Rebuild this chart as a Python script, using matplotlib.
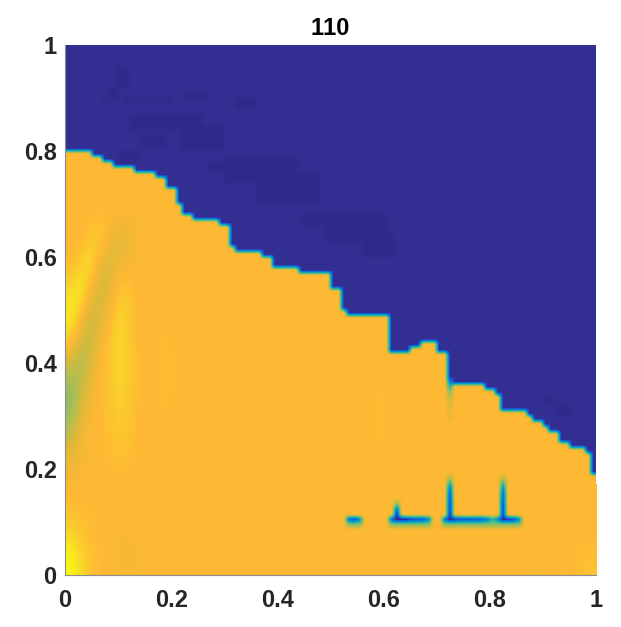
import numpy as np
import matplotlib

matplotlib.use("Agg")
import matplotlib.pyplot as plt
from matplotlib.colors import LinearSegmentedColormap

plt.rcParams["font.family"] = ["Liberation Sans", "DejaVu Sans"]
plt.rcParams["text.kerning_factor"] = 16

title = "110"
ticks = [0, 0.2, 0.4, 0.6, 0.8, 1]
tick_labels = ["0", "0.2", "0.4", "0.6", "0.8", "1"]

navy_level = 0.04
dark_navy_level = 0.015
orange_level = 0.855

# top of the orange region: last column of each step and its height in cells (grid is 100x100)
step_col_end = [5, 6, 7, 9, 13, 17, 19, 21, 22, 24, 29, 31, 32, 37, 39, 41, 44, 50, 52, 53,
                61, 65, 67, 70, 72, 79, 81, 82, 87, 88, 90, 91, 93, 95, 98, 99, 100]
step_height = [80, 79, 79, 78, 77, 76, 75, 73, 70, 68, 67, 66, 62, 61, 60, 58, 58, 57, 54, 50,
               49, 42, 43, 44, 42, 36, 35, 34, 31, 30, 29, 28, 27, 25, 24, 23, 19]

# thin blue features low in the orange region
ridge_row = 10
shoulder_row = 9
shoulder_level = 0.62
ridge_cols = [53, 54, 55, 61, 62, 63, 64, 65, 66, 67, 68, 71, 72, 73, 74, 75, 76, 77, 78, 79,
              80, 81, 82, 83, 84, 85]
ridge_vals = [0.18, 0.12, 0.3, 0.2, 0.0, 0.0, 0.05, 0.1, 0.12, 0.15, 0.3, 0.25, 0.02, 0.08,
              0.12, 0.14, 0.14, 0.14, 0.16, 0.25, 0.45, 0.3, 0.03, 0.06, 0.1, 0.3]
spike_cols = [72, 82, 62]
spike_first_row = 11
spike_vals = [[0.06, 0.08, 0.1, 0.12, 0.16, 0.26, 0.48, 0.72],
              [0.08, 0.1, 0.12, 0.16, 0.2, 0.32, 0.52, 0.75],
              [0.04, 0.25, 0.62]]
notch_col = 72
notch_first_row = 29
notch_vals = [0.82, 0.8, 0.78, 0.76, 0.72, 0.62, 0.45, 0.25]

# slightly darker areas inside the navy: col0, col1, row0, row1
dark_cols0 = [7, 8, 10, 22, 32, 11, 12, 22, 30, 36, 49, 56, 10, 14, 27, 44, 90, 93]
dark_cols1 = [8, 10, 12, 27, 36, 20, 26, 30, 44, 48, 61, 62, 14, 19, 34, 50, 92, 95]
dark_rows0 = [89, 90, 92, 90, 88, 89, 84, 80, 74, 70, 63, 60, 78, 81, 76, 66, 32, 30]
dark_rows1 = [90, 92, 96, 91, 90, 90, 87, 85, 79, 76, 68, 64, 80, 83, 78, 68, 34, 32]

# lower left streaks, rows go upwards
streak_field = [
    [1.00, 0.93, 0.88, 0.86, 0.85, 0.84, 0.84, 0.85, 0.855],
    [0.96, 0.90, 0.87, 0.86, 0.85, 0.84, 0.84, 0.85, 0.855],
    [0.90, 0.88, 0.865, 0.86, 0.85, 0.845, 0.845, 0.85, 0.855],
    [0.87, 0.865, 0.86, 0.855, 0.855, 0.85, 0.85, 0.855, 0.855],
    [0.84, 0.85, 0.855, 0.855, 0.855, 0.855, 0.855, 0.855, 0.855],
    [0.82, 0.84, 0.85, 0.855, 0.86, 0.865, 0.86, 0.855, 0.855],
    [0.78, 0.83, 0.85, 0.855, 0.87, 0.88, 0.87, 0.855, 0.855],
    [0.68, 0.80, 0.85, 0.86, 0.875, 0.895, 0.875, 0.855, 0.855],
    [0.62, 0.76, 0.84, 0.86, 0.88, 0.905, 0.88, 0.855, 0.855],
    [0.63, 0.72, 0.82, 0.86, 0.885, 0.915, 0.885, 0.855, 0.855],
    [0.72, 0.68, 0.78, 0.86, 0.89, 0.925, 0.89, 0.855, 0.855],
    [0.85, 0.72, 0.74, 0.84, 0.89, 0.93, 0.885, 0.85, 0.855],
    [0.95, 0.82, 0.72, 0.80, 0.875, 0.925, 0.88, 0.85, 0.855],
    [0.97, 0.92, 0.76, 0.76, 0.85, 0.92, 0.88, 0.85, 0.855],
    [0.92, 0.96, 0.85, 0.74, 0.80, 0.90, 0.87, 0.85, 0.855],
    [0.87, 0.92, 0.93, 0.78, 0.77, 0.85, 0.85, 0.85, 0.855],
    [0.85, 0.87, 0.92, 0.88, 0.78, 0.79, 0.83, 0.85, 0.855],
    [0.855, 0.85, 0.87, 0.89, 0.84, 0.80, 0.83, 0.85, 0.855],
    [0.855, 0.855, 0.85, 0.86, 0.86, 0.85, 0.85, 0.855, 0.855],
    [0.855, 0.855, 0.855, 0.855, 0.855, 0.855, 0.855, 0.855, 0.855],
]
streak_extent = (0, 0.17, 0, 0.74)

soft_blob = [
    [0.855, 0.855, 0.855],
    [0.855, 0.87, 0.855],
    [0.855, 0.87, 0.855],
    [0.855, 0.87, 0.855],
    [0.855, 0.855, 0.855],
]
soft_blob_extent = (0.16, 0.22, 0.26, 0.50)
mid_blob_extent = (0.575, 0.62, 0.20, 0.39)

corner_field = [
    [0.855, 0.845, 0.855, 0.865, 0.85, 0.875, 0.88],
    [0.855, 0.845, 0.86, 0.845, 0.87, 0.855, 0.87],
    [0.855, 0.85, 0.845, 0.86, 0.845, 0.865, 0.855],
    [0.855, 0.855, 0.85, 0.845, 0.855, 0.845, 0.86],
    [0.855, 0.855, 0.855, 0.85, 0.85, 0.855, 0.85],
    [0.855, 0.855, 0.855, 0.855, 0.855, 0.855, 0.855],
]
corner_extent = (0.87, 1, 0, 0.17)

parula_pos = [0, 0.05, 0.10, 0.16, 0.25, 0.33, 0.42, 0.55, 0.68, 0.78, 0.86, 0.93, 1]
parula_rgb = [
    (0.180, 0.160, 0.530), (0.208, 0.186, 0.585), (0.170, 0.290, 0.780), (0.012, 0.390, 0.880),
    (0.020, 0.510, 0.840), (0.030, 0.610, 0.780), (0.110, 0.680, 0.680), (0.400, 0.745, 0.490),
    (0.680, 0.745, 0.330), (0.880, 0.725, 0.220), (1.000, 0.725, 0.205), (0.975, 0.860, 0.150),
    (0.976, 0.983, 0.054),
]
parula = LinearSegmentedColormap.from_list("parula", list(zip(parula_pos, parula_rgb)))

Z = np.full((100, 100), navy_level)
col0 = 0
for col1, h in zip(step_col_end, step_height):
    Z[:h, col0:col1] = orange_level
    col0 = col1
for c0, c1, r0, r1 in zip(dark_cols0, dark_cols1, dark_rows0, dark_rows1):
    Z[r0:r1, c0:c1] = np.minimum(Z[r0:r1, c0:c1], dark_navy_level)
Z[shoulder_row, ridge_cols] = shoulder_level
Z[ridge_row, ridge_cols] = ridge_vals
for col, vals in zip(spike_cols, spike_vals):
    Z[spike_first_row : spike_first_row + len(vals), col] = vals
Z[notch_first_row : notch_first_row + len(notch_vals), notch_col] = notch_vals

fig = plt.figure(figsize=(6.21, 6.27), dpi=100)
ax = fig.add_axes([65 / 621, 52 / 627, 531 / 621, 530 / 627])
ax.imshow(Z, origin="lower", extent=(0, 1, 0, 1), cmap=parula, vmin=0, vmax=1,
          interpolation="bilinear", aspect="auto")
for field, extent in [
    (streak_field, streak_extent),
    (soft_blob, soft_blob_extent),
    (soft_blob, mid_blob_extent),
    (corner_field, corner_extent),
]:
    ax.imshow(field, origin="lower", extent=extent, cmap=parula, vmin=0, vmax=1,
              interpolation="bicubic", aspect="auto")

ax.set_xlim(0, 1)
ax.set_ylim(0, 1)
ax.set_xticks(ticks, tick_labels)
ax.set_yticks(ticks, tick_labels)
ax.tick_params(length=0, labelsize=17, labelcolor="#262626")
ax.tick_params(axis="x", pad=10)
ax.tick_params(axis="y", pad=6)
for lab in ax.get_xticklabels() + ax.get_yticklabels():
    lab.set_fontweight("bold")
ax.spines["top"].set_visible(False)
ax.spines["right"].set_visible(False)
ax.spines["left"].set_color("#8c8c8c")
ax.spines["bottom"].set_color("#8c8c8c")
ax.set_title(title, fontsize=17, fontweight="bold", color="black", pad=7)

fig.savefig("out.png", dpi=100)
